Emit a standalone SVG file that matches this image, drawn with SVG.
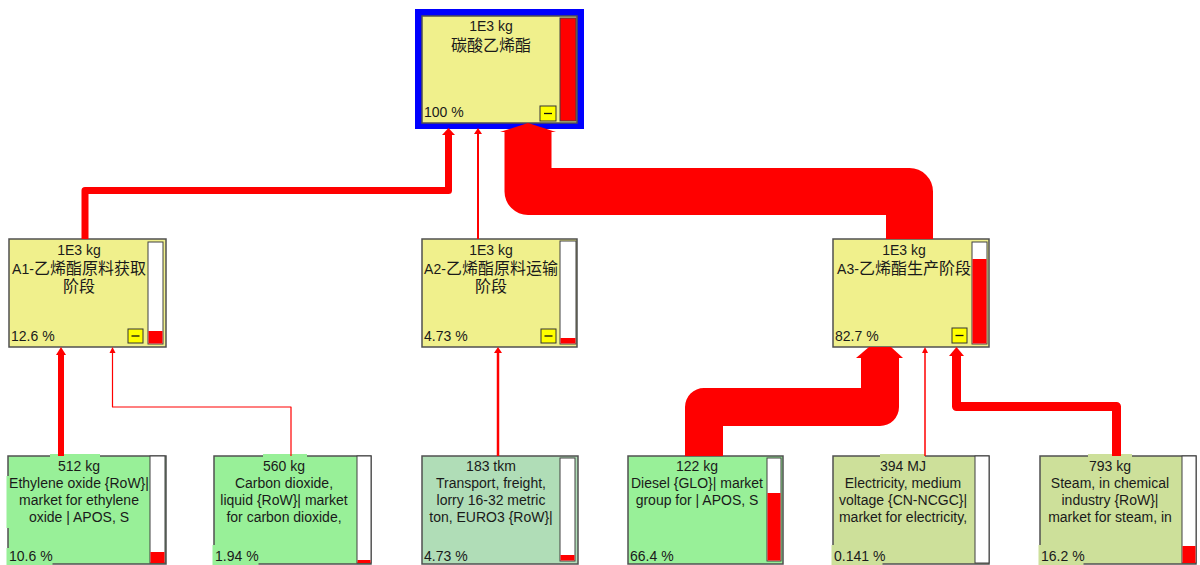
<svg xmlns="http://www.w3.org/2000/svg" width="1200" height="565" viewBox="0 0 1200 565">
<style>
.n{stroke:#505050;stroke-width:1.5}
.y{fill:#F0F08C}.g{fill:#98F098}.t{fill:#B0DDB7}.o{fill:#CDE09A}
.bar{fill:#fff;stroke:#404040;stroke-width:1}
.red{fill:#FF0000}
.btn{fill:#FFFF00;stroke:#333;stroke-width:1}
.dash{stroke:#111;stroke-width:1.3}
text{font-family:"Liberation Sans","Noto Sans CJK SC",sans-serif;font-size:14px;fill:#1a1a1a}
.c{text-anchor:middle}
.cjk{font-size:16px}
.conn{fill:none;stroke:#FF0000;stroke-linejoin:round}
.ah{fill:#FF0000}
</style>
<rect width="1200" height="565" fill="#fff"/>

<g id="node-top">
<rect x="415" y="9" width="169" height="120" fill="#0000FF"/>
<rect x="422" y="16" width="155" height="107" class="y n"/>
<rect x="560" y="18" width="16" height="103" class="red" stroke="#404040" stroke-width="1"/>
<rect x="540" y="106" width="16" height="15" class="btn"/>
<line x1="544" y1="113.5" x2="552" y2="113.5" class="dash"/>
<text x="491" y="31" class="c">1E3 kg</text>
<text x="491" y="51" class="c cjk">碳酸乙烯酯</text>
<text x="424" y="117">100 %</text>
</g>

<g id="node-a1">
<rect x="9" y="239" width="157" height="108" class="y n"/>
<rect x="148" y="242" width="15" height="102" class="bar"/>
<rect x="148.5" y="331" width="14" height="12.5" class="red"/>
<rect x="128" y="329" width="15" height="14" class="btn"/>
<line x1="131.5" y1="336" x2="139.5" y2="336" class="dash"/>
<text x="79" y="255" class="c">1E3 kg</text>
<text x="79" y="274" class="c">A1-<tspan class="cjk">乙烯酯原料获取</tspan></text>
<text x="79" y="292" class="c cjk">阶段</text>
<text x="11" y="341">12.6 %</text>
</g>

<g id="node-a2">
<rect x="422" y="239" width="155" height="108" class="y n"/>
<rect x="560" y="241" width="16" height="103" class="bar"/>
<rect x="560.5" y="338" width="15" height="5.5" class="red"/>
<rect x="541" y="329" width="15" height="14" class="btn"/>
<line x1="544.5" y1="336" x2="552.5" y2="336" class="dash"/>
<text x="491" y="255" class="c">1E3 kg</text>
<text x="491" y="274" class="c">A2-<tspan class="cjk">乙烯酯原料运输</tspan></text>
<text x="491" y="292" class="c cjk">阶段</text>
<text x="424" y="341">4.73 %</text>
</g>

<g id="node-a3">
<rect x="833" y="239" width="156" height="108" class="y n"/>
<rect x="972" y="242" width="15" height="102" class="bar"/>
<rect x="972.5" y="259" width="14" height="84.5" class="red"/>
<rect x="952" y="328" width="15" height="15" class="btn"/>
<line x1="955.5" y1="335.5" x2="963.5" y2="335.5" class="dash"/>
<text x="904" y="255" class="c">1E3 kg</text>
<text x="904" y="274" class="c">A3-<tspan class="cjk">乙烯酯生产阶段</tspan></text>
<text x="835" y="341">82.7 %</text>
</g>

<g id="node-ethylene">
<rect x="8" y="456" width="158" height="108" class="g n"/>
<rect x="150" y="456" width="15" height="107" class="bar"/>
<rect x="150.5" y="552" width="14" height="11" class="red"/>
<rect x="50" y="454" width="50" height="3" class="g"/>
<rect x="6.5" y="476" width="3" height="52" class="g"/>
<rect x="6.5" y="548" width="46" height="17" class="g"/>
<text x="79" y="471" class="c">512 kg</text>
<text x="79" y="488" class="c">Ethylene oxide {RoW}|</text>
<text x="79" y="505" class="c">market for ethylene</text>
<text x="79" y="522" class="c">oxide | APOS, S</text>
<text x="9" y="561">10.6 %</text>
</g>

<g id="node-co2">
<rect x="214" y="456" width="157" height="108" class="g n"/>
<rect x="357" y="456" width="14" height="107" class="bar"/>
<rect x="357.5" y="560" width="13" height="3" class="red"/>
<rect x="263" y="454" width="44" height="3" class="g"/>
<rect x="212.5" y="545" width="46" height="20" class="g"/>
<text x="284" y="471" class="c">560 kg</text>
<text x="284" y="488" class="c">Carbon dioxide,</text>
<text x="284" y="505" class="c">liquid {RoW}| market</text>
<text x="284" y="522" class="c">for carbon dioxide,</text>
<text x="215" y="561">1.94 %</text>
</g>

<g id="node-transport">
<rect x="422" y="456" width="156" height="108" class="t n"/>
<rect x="560" y="458" width="15" height="103" class="bar"/>
<rect x="560.5" y="555" width="14" height="5.5" class="red"/>
<text x="491" y="471" class="c">183 tkm</text>
<text x="491" y="488" class="c">Transport, freight,</text>
<text x="491" y="505" class="c">lorry 16-32 metric</text>
<text x="491" y="522" class="c">ton, EURO3 {RoW}|</text>
<text x="424" y="561">4.73 %</text>
</g>

<g id="node-diesel">
<rect x="628" y="456" width="155" height="108" class="g n"/>
<rect x="767" y="458" width="14" height="103" class="bar"/>
<rect x="767.5" y="493" width="13" height="67.5" class="red"/>
<text x="697" y="471" class="c">122 kg</text>
<text x="697" y="488" class="c">Diesel {GLO}| market</text>
<text x="697" y="505" class="c">group for | APOS, S</text>
<text x="630" y="561">66.4 %</text>
</g>

<g id="node-electricity">
<rect x="833" y="456" width="156" height="108" class="o n"/>
<rect x="975" y="456" width="14" height="107" class="bar"/>
<rect x="880" y="454" width="45" height="3" class="o"/>
<rect x="831.5" y="545" width="51" height="20" class="o"/>
<text x="903" y="471" class="c">394 MJ</text>
<text x="903" y="488" class="c">Electricity, medium</text>
<text x="903" y="505" class="c">voltage {CN-NCGC}|</text>
<text x="903" y="522" class="c">market for electricity,</text>
<text x="834" y="561">0.141 %</text>
</g>

<g id="node-steam">
<rect x="1040" y="456" width="156" height="108" class="o n"/>
<rect x="1182" y="456" width="14" height="107" class="bar"/>
<rect x="1182.5" y="546" width="13" height="17" class="red"/>
<rect x="1088" y="454" width="44" height="3" class="o"/>
<rect x="1038.5" y="545" width="45" height="20" class="o"/>
<text x="1110" y="471" class="c">793 kg</text>
<text x="1110" y="488" class="c">Steam, in chemical</text>
<text x="1110" y="505" class="c">industry {RoW}|</text>
<text x="1110" y="522" class="c">market for steam, in</text>
<text x="1041" y="561">16.2 %</text>
</g>

<g id="connectors">
<path class="conn" stroke-width="7" d="M85,239 V190.5 H448.5 V134"/>
<polygon class="ah" points="442,135 448.5,128 455,135"/>
<path class="conn" stroke-width="2" d="M478,239 V133"/>
<polygon class="ah" points="474,134 478,128 482,134"/>
<path class="conn" stroke-width="47" d="M909.5,239 V191.5 H528 V131"/>
<polygon class="ah" points="500,132 528,123 556,132"/>
<path class="conn" stroke-width="38" d="M704,456 V407 H880 V357"/>
<polygon class="ah" points="856,358 869,347 891,347 903,358"/>
<path class="conn" stroke-width="1.5" d="M925,456 V351"/>
<polygon class="ah" points="922,353 925,347 928,353"/>
<path class="conn" stroke-width="9" d="M1116.5,456 V406.5 H956.5 V354"/>
<polygon class="ah" points="949,356 956.5,347 964,356"/>
<path class="conn" stroke-width="6" d="M61,456 V354"/>
<polygon class="ah" points="56,355 61,347 66,355"/>
<path class="conn" stroke-width="1.2" d="M291,456 V407 H112.5 V351"/>
<polygon class="ah" points="109.5,353 112.5,347 115.5,353"/>
<path class="conn" stroke-width="2.5" d="M498,456 V351"/>
<polygon class="ah" points="494,353 498,347 502,353"/>
</g>
</svg>
